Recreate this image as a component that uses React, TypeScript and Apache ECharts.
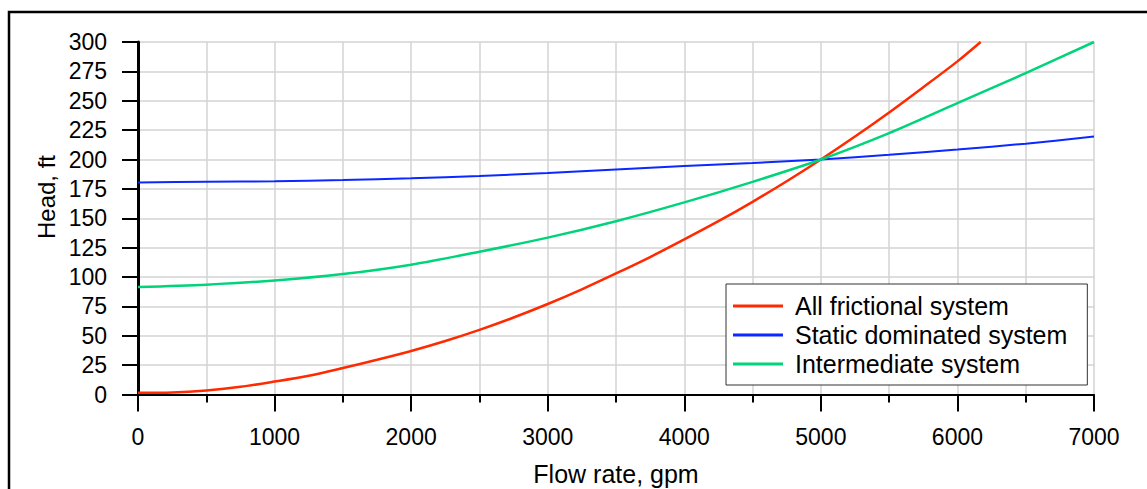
import React, { useEffect, useRef } from "react";
import * as echarts from "echarts";

const seriesNames = ["All frictional system", "Static dominated system", "Intermediate system"];
const seriesColors = ["#ff2a00", "#0a28ff", "#00d47a"];

// [flow rate gpm, head ft]
const frictional: [number, number][] = [
  [0, 1.5], [250, 1.8], [500, 3.5], [750, 6.5], [1000, 11], [1250, 16], [1500, 22.5],
  [1750, 29.5], [2000, 37], [2250, 45.5], [2500, 55], [2750, 65.5], [3000, 77],
  [3250, 89.5], [3500, 103], [3750, 117], [4000, 132], [4250, 147.5], [4500, 164],
  [4750, 181.5], [5000, 200], [5250, 219.5], [5500, 240], [5750, 261.5], [6000, 283.5],
  [6170, 300],
];
const staticDominated: [number, number][] = [
  [0, 180.5], [500, 181], [1000, 181.5], [1500, 182.5], [2000, 184], [2500, 186],
  [3000, 188.5], [3500, 191.5], [4000, 194.5], [4500, 197], [5000, 200], [5500, 204],
  [6000, 208.5], [6500, 213.5], [7000, 219.5],
];
const intermediate: [number, number][] = [
  [0, 91.5], [500, 93.5], [1000, 97], [1500, 102.5], [2000, 110.5], [2500, 121.5],
  [3000, 133.5], [3500, 147.5], [4000, 163.5], [4500, 181], [5000, 200], [5500, 222.5],
  [6000, 248], [6500, 273.5], [7000, 300],
];

const xTitle = "Flow rate, gpm";
const yTitle = "Head, ft";

const FONT = "'Liberation Sans', Arial, sans-serif";

export default function App() {
  const ref = useRef<HTMLDivElement>(null);
  useEffect(() => {
    if (!ref.current) return;
    const chart = echarts.init(ref.current, null, { renderer: "svg" });
    const data = [frictional, staticDominated, intermediate];
    chart.setOption({
      animation: false,
      backgroundColor: "#fff",
      grid: { left: 138, top: 42, right: 53, bottom: 94.5, containLabel: false, outerBoundsMode: "none" },
      legend: {
        orient: "vertical",
        left: 726,
        top: 284,
        backgroundColor: "#fff",
        borderColor: "#333",
        borderWidth: 1,
        padding: [9, 20, 8, 7],
        itemWidth: 50,
        itemHeight: 3,
        icon: "rect",
        itemGap: 3,
        data: seriesNames,
        textStyle: { fontSize: 25, fontFamily: FONT, color: "#000", lineHeight: 26, padding: [0, 0, 0, 7] },
      },
      xAxis: {
        type: "value",
        min: 0,
        max: 7000,
        interval: 1000,
        name: xTitle,
        nameLocation: "middle",
        nameGap: 67,
        nameTextStyle: { fontSize: 25, fontFamily: FONT, color: "#000" },
        axisLine: { show: true, onZero: false, lineStyle: { color: "#000", width: 2 } },
        axisTick: { show: true, length: 17, lineStyle: { color: "#000", width: 2 } },
        minorTick: { show: true, splitNumber: 2, length: 8, lineStyle: { color: "#000", width: 2 } },
        splitLine: { show: true, lineStyle: { color: "#d3d3d3", width: 1.5 } },
        minorSplitLine: { show: true, lineStyle: { color: "#d3d3d3", width: 1.5 } },
        axisLabel: {
          fontSize: 23,
          fontFamily: FONT,
          color: "#000",
          margin: 31,
          formatter: (v: number) => String(v),
        },
      },
      yAxis: {
        type: "value",
        min: 0,
        max: 300,
        interval: 25,
        axisLine: { show: true, onZero: false, lineStyle: { color: "#000", width: 3 } },
        axisTick: { show: true, length: 16, lineStyle: { color: "#000", width: 2 } },
        splitLine: { show: true, lineStyle: { color: "#d3d3d3", width: 1.5 } },
        axisLabel: { fontSize: 23, fontFamily: FONT, color: "#000", margin: 31, formatter: (v: number) => String(v) },
      },
      graphic: [
        {
          type: "rect",
          shape: { x: 9, y: 12, width: 1300, height: 700 },
          style: { fill: "none", stroke: "#000", lineWidth: 2.5 },
          silent: true,
          z: 100,
        },
        {
          type: "text",
          x: 46,
          y: 197,
          rotation: Math.PI / 2,
          style: {
            text: yTitle,
            fontSize: 24,
            fontFamily: FONT,
            fill: "#000",
            align: "center",
            verticalAlign: "middle",
          },
        },
      ],
      series: seriesNames.map((name, i) => ({
        name,
        type: "line",
        data: data[i],
        smooth: 0.3,
        showSymbol: false,
        symbol: "none",
        color: seriesColors[i],
        lineStyle: { color: seriesColors[i], width: i === 1 ? 2 : 2.5 },
        z: 3,
      })),
    });
    return () => chart.dispose();
  }, []);
  return (
    <div style={{ position: "absolute", left: 0, top: 0, width: 1147, height: 489 }}>
      <div ref={ref} style={{ width: 1147, height: 489 }} />
    </div>
  );
}
